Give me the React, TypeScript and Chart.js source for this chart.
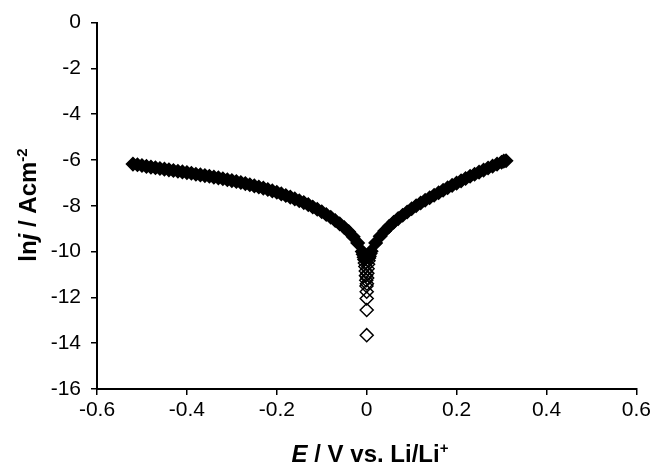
import { useEffect, useRef } from "react";
import { Chart, registerables } from "chart.js";

Chart.register(...registerables);

// Potential E (V vs. Li/Li+) and ln j values
const potentialV: number[] = [
  -0.52, -0.51, -0.5, -0.49, -0.48, -0.47, -0.46, -0.45, -0.44, -0.43,
  -0.42, -0.41, -0.4, -0.39, -0.38, -0.37, -0.36, -0.35, -0.34, -0.33,
  -0.32, -0.31, -0.3, -0.29, -0.28, -0.27, -0.26, -0.25, -0.24, -0.23,
  -0.22, -0.21, -0.2, -0.19, -0.18, -0.17, -0.16, -0.15, -0.14, -0.13,
  -0.12, -0.11, -0.1, -0.09, -0.08, -0.07, -0.06, -0.05, -0.04, -0.03,
  -0.02, -0.01, -0.008, -0.006, -0.005, -0.004, -0.003, -0.002, -0.0015, -0.001,
  -0.0005, 0.0, 0.0, 0.0, 0.0,
  0.0005, 0.001, 0.0015, 0.002, 0.003, 0.004, 0.005, 0.006, 0.008,
  0.01, 0.02, 0.03, 0.04, 0.05, 0.06, 0.07, 0.08, 0.09, 0.1,
  0.11, 0.12, 0.13, 0.14, 0.15, 0.16, 0.17, 0.18, 0.19, 0.2,
  0.21, 0.22, 0.23, 0.24, 0.25, 0.26, 0.27, 0.28, 0.29, 0.3,
  0.305, 0.31,
];

const lnCurrent: number[] = [
  -6.18, -6.21, -6.24, -6.28, -6.31, -6.34, -6.37, -6.4, -6.43, -6.46,
  -6.49, -6.52, -6.55, -6.58, -6.62, -6.65, -6.68, -6.71, -6.75, -6.78,
  -6.82, -6.86, -6.9, -6.94, -6.98, -7.03, -7.08, -7.13, -7.18, -7.23,
  -7.29, -7.35, -7.41, -7.48, -7.55, -7.62, -7.7, -7.78, -7.86, -7.95,
  -8.05, -8.15, -8.26, -8.38, -8.5, -8.64, -8.79, -8.95, -9.13, -9.35,
  -9.62, -10.0, -10.12, -10.25, -10.35, -10.5, -10.65, -10.85, -11.05, -11.25,
  -11.5, -11.75, -12.05, -12.55, -13.65,
  -11.4, -11.15, -10.95, -10.75, -10.55, -10.4, -10.28, -10.2, -10.08,
  -9.98, -9.62, -9.33, -9.1, -8.9, -8.72, -8.56, -8.41, -8.27, -8.13,
  -8.0, -7.88, -7.76, -7.65, -7.54, -7.43, -7.32, -7.21, -7.11, -7.01,
  -6.91, -6.81, -6.71, -6.62, -6.53, -6.44, -6.35, -6.27, -6.18, -6.1,
  -6.05, -6.03,
];

const xTickValues: number[] = [-0.6, -0.4, -0.2, 0, 0.2, 0.4, 0.6];
const yTickValues: number[] = [0, -2, -4, -6, -8, -10, -12, -14, -16];

type Run = { text: string; italic?: boolean; sup?: boolean };
const xTitleRuns: Run[] = [
  { text: "E", italic: true },
  { text: " / V vs. Li/Li" },
  { text: "+", sup: true },
];
const yTitleRuns: Run[] = [
  { text: "ln" },
  { text: "j", italic: true },
  { text: " / Acm" },
  { text: "-2", sup: true },
];

const FONT = '"Liberation Sans", Arial, sans-serif';

function drawRuns(ctx: CanvasRenderingContext2D, runs: Run[], cx: number, baseline: number, size: number) {
  const fontFor = (r: Run) =>
    `${r.italic ? "italic " : ""}bold ${r.sup ? Math.round(size * 0.62) : size}px ${FONT}`;
  const widths = runs.map((r) => {
    ctx.font = fontFor(r);
    return ctx.measureText(r.text).width;
  });
  const total = widths.reduce((a, b) => a + b, 0);
  let x = cx - total / 2;
  ctx.fillStyle = "#000";
  ctx.textBaseline = "alphabetic";
  ctx.textAlign = "left";
  runs.forEach((r, i) => {
    ctx.font = fontFor(r);
    ctx.fillText(r.text, x, baseline + (r.sup ? -size * 0.38 : 0));
    x += widths[i];
  });
}

const TITLE_SIZE = 24;

const titlePlugin = {
  id: "axisTitles",
  afterDraw(chart: any) {
    const ctx: CanvasRenderingContext2D = chart.ctx;
    ctx.save();
    drawRuns(ctx, xTitleRuns, 370, 453 + TITLE_SIZE * 0.36, TITLE_SIZE);
    ctx.restore();
    ctx.save();
    ctx.translate(27, 205);
    ctx.rotate(-Math.PI / 2);
    drawRuns(ctx, yTitleRuns, 0, TITLE_SIZE * 0.36, TITLE_SIZE);
    ctx.restore();
  },
};

export default function App() {
  const canvasRef = useRef<HTMLCanvasElement | null>(null);

  useEffect(() => {
    const canvas = canvasRef.current;
    if (!canvas) return;
    const points = potentialV.map((x, i) => ({ x, y: lnCurrent[i] }));
    const chart = new Chart(canvas, {
      type: "scatter",
      data: {
        datasets: [
          {
            data: points,
            pointStyle: "rectRot",
            pointRadius: 6.5,
            pointHoverRadius: 6.5,
            borderColor: "#000",
            pointBorderColor: "#000",
            pointBorderWidth: 1.5,
            pointBackgroundColor: (c: any) =>
              lnCurrent[c.dataIndex] > -10.4 ? "#000" : "rgba(0,0,0,0)",
            showLine: false,
          },
        ],
      },
      options: {
        responsive: false,
        animation: false,
        devicePixelRatio: 1,
        layout: { padding: { left: 0, right: 16, top: 20, bottom: 0 } },
        plugins: {
          legend: { display: false },
          tooltip: { enabled: false },
        },
        scales: {
          x: {
            type: "linear",
            min: -0.6,
            max: 0.6,
            afterBuildTicks: (scale: any) => {
              scale.ticks = xTickValues.map((value) => ({ value }));
            },
            afterFit: (scale: any) => {
              scale.height = 79;
            },
            border: { display: true, color: "#000", width: 2 },
            grid: {
              drawOnChartArea: false,
              drawTicks: true,
              tickLength: 6,
              color: "#000",
              lineWidth: 1.5,
            },
            ticks: {
              color: "#000",
              font: { family: FONT, size: 21 },
              padding: 3,
              maxRotation: 0,
              callback: (v: any) => String(Number(Number(v).toFixed(1))),
            },
          },
          y: {
            type: "linear",
            min: -16,
            max: 0,
            afterBuildTicks: (scale: any) => {
              scale.ticks = yTickValues.map((value) => ({ value }));
            },
            afterFit: (scale: any) => {
              scale.width = 97;
            },
            border: { display: true, color: "#000", width: 2 },
            grid: {
              drawOnChartArea: false,
              drawTicks: true,
              tickLength: 6,
              color: "#000",
              lineWidth: 1.5,
            },
            ticks: {
              color: "#000",
              font: { family: FONT, size: 21 },
              padding: 10,
              callback: (v: any) => String(v),
            },
          },
        },
      },
      plugins: [titlePlugin],
    });
    return () => chart.destroy();
  }, []);

  return (
    <div style={{ position: "fixed", left: 0, top: 0, width: 654, height: 468, background: "#fff" }}>
      <canvas ref={canvasRef} width={654} height={468} style={{ width: 654, height: 468 }} />
    </div>
  );
}
